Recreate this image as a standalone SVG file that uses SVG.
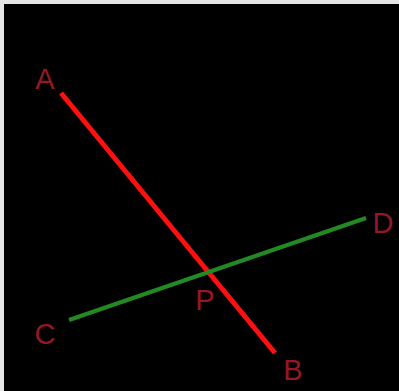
<svg xmlns="http://www.w3.org/2000/svg" width="399" height="391" viewBox="0 0 399 391">
  <style>
    .lbl { font-family: "Liberation Sans", Arial, sans-serif; font-size: 29px; fill: #941826; text-anchor: middle; }
    .seg { stroke-linecap: butt; fill: none; }
  </style>
  <rect x="0" y="0" width="399" height="391" fill="#e6e6e6"/>
  <rect x="4" y="4" width="395" height="387" fill="#000000"/>
  <g id="connectors">
    <line id="AB" class="seg" x1="61" y1="93" x2="275" y2="353" stroke="#ff1010" stroke-width="5"/>
    <line id="CD" class="seg" x1="69" y1="320" x2="366" y2="218" stroke="#238a23" stroke-width="4"/>
  </g>
  <g id="A"><text class="lbl" x="45" y="89">A</text></g>
  <g id="B"><text class="lbl" x="293" y="380">B</text></g>
  <g id="C"><text class="lbl" x="45" y="344">C</text></g>
  <g id="D"><text class="lbl" x="383" y="233">D</text></g>
  <g id="P"><text class="lbl" x="205" y="310">P</text></g>
</svg>
